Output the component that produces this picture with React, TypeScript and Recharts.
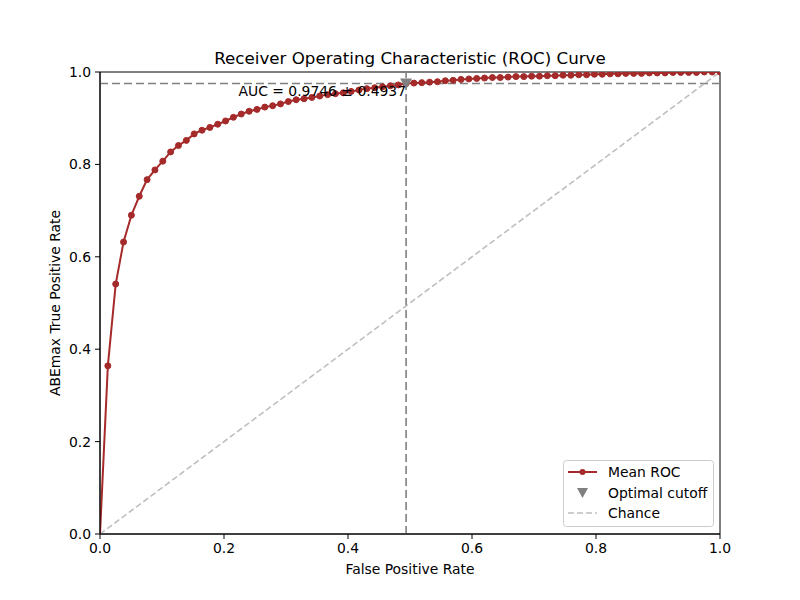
import { ComposedChart, Line, Scatter, XAxis, YAxis, ReferenceLine, ReferenceArea } from 'recharts'

// mean ROC, 80 evenly spaced fpr points (0 .. 1)
const fpr = Array.from({ length: 80 }, (_, i) => i / 79)
const meanTpr = [
  0, 0.364, 0.541, 0.632, 0.69, 0.731, 0.767, 0.788, 0.807, 0.827,
  0.841, 0.852, 0.866, 0.874, 0.88, 0.887, 0.894, 0.902, 0.909, 0.915,
  0.919, 0.924, 0.927, 0.931, 0.936, 0.94, 0.942, 0.945, 0.948, 0.951,
  0.953, 0.955, 0.958, 0.961, 0.964, 0.966, 0.968, 0.97, 0.972, 0.975,
  0.976, 0.977, 0.978, 0.979, 0.981, 0.982, 0.984, 0.985, 0.986, 0.987,
  0.988, 0.988, 0.989, 0.99, 0.99, 0.991, 0.991, 0.992, 0.992, 0.993,
  0.993, 0.994, 0.994, 0.995, 0.995, 0.996, 0.996, 0.997, 0.997, 0.997,
  0.998, 0.998, 0.998, 0.999, 0.999, 0.999, 0.999, 1, 1, 1,
]
const chanceX = [0, 1]
const chanceY = [0, 1]
const cutoff = { fpr: 0.4937, tpr: 0.975 }
const aucText = 'AUC = 0.9746 ± 0.4937'
const ticks = [0, 0.2, 0.4, 0.6, 0.8, 1]

const rocData = fpr.map((x, i) => ({ x, y: meanTpr[i] }))
const chanceData = chanceX.map((x, i) => ({ x, y: chanceY[i] }))
const cutoffData = [{ x: cutoff.fpr, y: cutoff.tpr }]

const FONT = 'DejaVu Sans, sans-serif'
const ROC = '#a52a2a'

const RocDot = (p: any) => {
  if (p.index === 0) return <g key={p.index} />
  return <circle key={p.index} cx={p.cx} cy={p.cy} r={3} fill={ROC} stroke={ROC} strokeWidth={1} />
}

const Tri = (p: any) => (
  <path d={`M${p.cx - 6},${p.cy - 5} L${p.cx + 6},${p.cy - 5} L${p.cx},${p.cy + 6} Z`} fill="#808080" />
)

export default function App() {
  const fmt = (v: number) => v.toFixed(1)
  return (
    <div style={{ position: 'absolute', left: 0, top: 0, width: 800, height: 600, background: '#fff', fontFamily: FONT }}>
      <ComposedChart width={800} height={600} margin={{ top: 72, right: 80, bottom: 26, left: 40 }}>
        <XAxis dataKey="x" type="number" domain={[0, 1]} ticks={ticks} tickFormatter={fmt} height={40}
          allowDataOverflow tick={{ fill: '#000', fontSize: 13.9, fontFamily: FONT }} tickSize={5} tickMargin={4}
          stroke="#000" />
        <YAxis dataKey="y" type="number" domain={[0, 1]} ticks={ticks} tickFormatter={fmt} width={60}
          allowDataOverflow tick={{ fill: '#000', fontSize: 13.9, fontFamily: FONT }} tickSize={5} tickMargin={4}
          stroke="#000" />
        <ReferenceLine x={cutoff.fpr} stroke="#808080" strokeWidth={1.6} strokeDasharray="8 4" />
        <ReferenceLine y={cutoff.tpr} stroke="#808080" strokeWidth={1.6} strokeDasharray="8 4" />
        <Line data={chanceData} dataKey="y" stroke="#bfbfbf" strokeWidth={1.6} strokeDasharray="6 3"
          dot={false} isAnimationActive={false} />
        <Line data={rocData} dataKey="y" stroke={ROC} strokeWidth={2} dot={RocDot}
          isAnimationActive={false} />
        <Scatter data={cutoffData} dataKey="y" shape={Tri} isAnimationActive={false} />
        <ReferenceArea x1={0} x2={1} y1={0} y2={1} fill="none" stroke="#000" strokeWidth={1} fillOpacity={0} />
      </ComposedChart>
      <svg width={800} height={600} style={{ position: 'absolute', left: 0, top: 0, pointerEvents: 'none' }}
        fontFamily={FONT}>
        <text x={410} y={64} fontSize={16.7} textAnchor="middle">Receiver Operating Characteristic (ROC) Curve</text>
        <text x={410} y={574} fontSize={13.9} textAnchor="middle">False Positive Rate</text>
        <text x={60} y={303} fontSize={13.9} textAnchor="middle" transform="rotate(-90 60 303)">ABEmax True Positive Rate</text>
        <text x={406} y={96} fontSize={13.9} textAnchor="end">{aucText}</text>
        <g>
          <rect x={563.5} y={460.5} width={150} height={66} rx={3} fill="#fff" fillOpacity={0.8} stroke="#cccccc" />
          <line x1={568} y1={472} x2={597} y2={472} stroke={ROC} strokeWidth={2} />
          <circle cx={582.5} cy={472} r={3} fill={ROC} />
          <text x={608} y={477} fontSize={13.9}>Mean ROC</text>
          <path d="M577,488 L588,488 L582.5,498 Z" fill="#808080" />
          <text x={608} y={498} fontSize={13.9}>Optimal cutoff</text>
          <line x1={568} y1={513} x2={597} y2={513} stroke="#bfbfbf" strokeWidth={1.6} strokeDasharray="6 3" />
          <text x={608} y={518} fontSize={13.9}>Chance</text>
        </g>
      </svg>
    </div>
  )
}
